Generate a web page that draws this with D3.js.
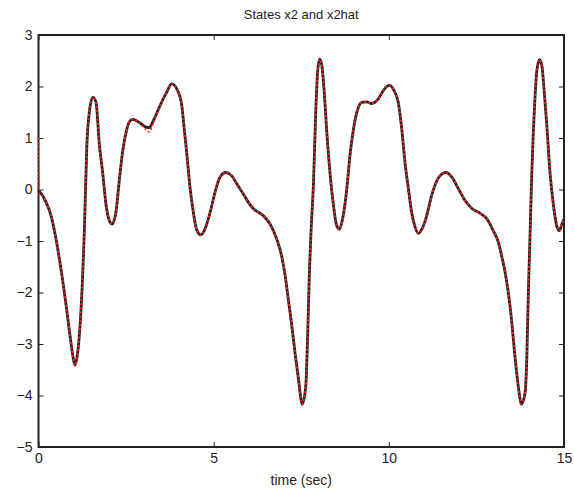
<!DOCTYPE html>
<html>
<head>
<meta charset="utf-8">
<script src="https://cdn.jsdelivr.net/npm/d3@7"></script>
<style>
  body { margin: 0; background: #fff; }
  text { font-family: "Liberation Sans", Arial, sans-serif; fill: #222; }
</style>
</head>
<body>
<div id="container"></div>
<script>
/* CONSTANTS AND GLOBALS */
const width = 574,
  height = 490,
  margin = { top: 35, bottom: 43, left: 38.5, right: 10 }

/* DATA */
const time = [0.00, 0.03, 0.12, 0.21, 0.36, 0.50, 0.64, 0.79, 0.90, 0.98, 1.04, 1.12, 1.21, 1.31, 1.38, 1.45, 1.55, 1.64, 1.74, 1.83,
  1.93, 2.02, 2.10, 2.21, 2.31, 2.40, 2.50, 2.59, 2.69, 2.88, 3.07, 3.16, 3.28, 3.47, 3.66, 3.80, 3.95, 4.09, 4.16, 4.23,
  4.32, 4.42, 4.51, 4.63, 4.75, 4.90, 5.04, 5.18, 5.35, 5.51, 5.66, 5.85, 6.02, 6.13, 6.42, 6.61, 6.80, 6.94, 7.04, 7.13,
  7.23, 7.32, 7.42, 7.53, 7.63, 7.68, 7.73, 7.78, 7.85, 7.91, 7.96, 8.02, 8.08, 8.15, 8.23, 8.32, 8.42, 8.51, 8.59, 8.68,
  8.80, 8.89, 8.99, 9.10, 9.23, 9.37, 9.51, 9.70, 9.84, 10.01, 10.15, 10.27, 10.37, 10.46, 10.56, 10.65, 10.75, 10.84, 10.97, 11.08,
  11.22, 11.37, 11.51, 11.63, 11.80, 11.99, 12.18, 12.37, 12.60, 12.80, 12.98, 13.13, 13.22, 13.32, 13.41, 13.51, 13.58, 13.68, 13.79, 13.89,
  13.94, 13.98, 14.03, 14.08, 14.12, 14.17, 14.22, 14.30, 14.37, 14.43, 14.51, 14.60, 14.70, 14.79, 14.87, 14.94, 15.00]

const x2 = [0.00, -0.04, -0.12, -0.24, -0.51, -0.96, -1.54, -2.26, -2.84, -3.23, -3.41, -3.16, -2.38, -0.77, 0.85, 1.50, 1.79, 1.70, 0.85, 0.34,
  -0.31, -0.60, -0.67, -0.44, 0.20, 0.73, 1.11, 1.31, 1.36, 1.30, 1.21, 1.20, 1.34, 1.63, 1.89, 2.05, 1.95, 1.63, 1.17, 0.72,
  0.07, -0.44, -0.77, -0.88, -0.77, -0.44, -0.05, 0.24, 0.33, 0.27, 0.11, -0.09, -0.28, -0.37, -0.51, -0.67, -0.96, -1.29, -1.67, -2.13,
  -2.64, -3.16, -3.68, -4.17, -3.81, -2.90, -1.67, -0.80, 0.14, 1.43, 2.21, 2.53, 2.44, 1.95, 1.11, 0.33, -0.31, -0.70, -0.77, -0.57,
  0.01, 0.66, 1.17, 1.53, 1.69, 1.70, 1.67, 1.76, 1.92, 2.02, 1.92, 1.69, 1.17, 0.53, 0.01, -0.44, -0.73, -0.85, -0.73, -0.51,
  -0.12, 0.17, 0.30, 0.33, 0.24, 0.01, -0.22, -0.37, -0.46, -0.57, -0.80, -1.03, -1.29, -1.61, -2.00, -2.58, -3.10, -3.74, -4.17, -3.94,
  -3.23, -2.06, -0.90, 0.30, 1.05, 1.76, 2.28, 2.52, 2.40, 1.95, 1.24, 0.33, -0.31, -0.70, -0.80, -0.67, -0.58]

// estimate: starts at 1, dips a little below x2 around t = 3.1
const x2hat = [1.00, -0.10, -0.12, -0.24, -0.51, -0.96, -1.54, -2.26, -2.84, -3.23, -3.41, -3.16, -2.38, -0.77, 0.85, 1.50, 1.79, 1.70, 0.85, 0.34,
  -0.31, -0.60, -0.67, -0.44, 0.20, 0.73, 1.11, 1.31, 1.36, 1.30, 1.16, 1.12, 1.30, 1.63, 1.89, 2.05, 1.95, 1.63, 1.17, 0.72,
  0.07, -0.44, -0.77, -0.88, -0.77, -0.44, -0.05, 0.24, 0.33, 0.27, 0.11, -0.09, -0.28, -0.37, -0.51, -0.67, -0.96, -1.29, -1.67, -2.13,
  -2.64, -3.16, -3.68, -4.17, -3.81, -2.90, -1.67, -0.80, 0.14, 1.43, 2.21, 2.53, 2.44, 1.95, 1.11, 0.33, -0.31, -0.70, -0.77, -0.57,
  0.01, 0.66, 1.17, 1.53, 1.69, 1.70, 1.67, 1.76, 1.92, 2.02, 1.92, 1.69, 1.17, 0.53, 0.01, -0.44, -0.73, -0.85, -0.73, -0.51,
  -0.12, 0.17, 0.30, 0.33, 0.24, 0.01, -0.22, -0.37, -0.46, -0.57, -0.80, -1.03, -1.29, -1.61, -2.00, -2.58, -3.10, -3.74, -4.17, -3.94,
  -3.23, -2.06, -0.90, 0.30, 1.05, 1.76, 2.28, 2.52, 2.40, 1.95, 1.24, 0.33, -0.31, -0.70, -0.80, -0.67, -0.58]

const xTicks = [0, 5, 10, 15]
const yTicks = [-5, -4, -3, -2, -1, 0, 1, 2, 3]

const titleText = "States x2 and x2hat"
const xLabelText = "time (sec)"

/* SCALES */
const xScale = d3.scaleLinear()
  .domain([0, 15])
  .range([margin.left, width - margin.right])

const yScale = d3.scaleLinear()
  .domain([-5, 3])
  .range([height - margin.bottom, margin.top])

/* SVG */
const svg = d3.select("#container")
  .append("svg")
  .attr("width", width)
  .attr("height", height)

/* AXES (MATLAB style box, ticks inside on all sides) */
const tickLen = 5
const axisStyle = g => {
  g.select(".domain").remove()
  g.selectAll(".tick line").attr("stroke", "#222")
  g.selectAll(".tick text").style("font-size", "14px").attr("fill", "#222")
}

svg.append("g")
  .attr("transform", `translate(0, ${height - margin.bottom})`)
  .call(d3.axisBottom(xScale).tickValues(xTicks).tickSize(-tickLen).tickPadding(6).tickFormat(d3.format("d")))
  .call(axisStyle)

svg.append("g")
  .attr("transform", `translate(0, ${margin.top})`)
  .call(d3.axisTop(xScale).tickValues(xTicks).tickSize(-tickLen).tickFormat(""))
  .call(axisStyle)

svg.append("g")
  .attr("transform", `translate(${margin.left}, 0)`)
  .call(d3.axisLeft(yScale).tickValues(yTicks).tickSize(-tickLen).tickPadding(6).tickFormat(d3.format("d")))
  .call(axisStyle)

svg.append("g")
  .attr("transform", `translate(${width - margin.right}, 0)`)
  .call(d3.axisRight(yScale).tickValues(yTicks).tickSize(-tickLen).tickFormat(""))
  .call(axisStyle)

// box
svg.append("rect")
  .attr("x", margin.left)
  .attr("y", margin.top)
  .attr("width", width - margin.left - margin.right)
  .attr("height", height - margin.top - margin.bottom)
  .attr("fill", "none")
  .attr("stroke", "#222")
  .attr("stroke-width", 2)

/* LINES */
const lineGen = d3.line()
  .x(d => xScale(d[0]))
  .y(d => yScale(d[1]))
  .curve(d3.curveMonotoneX)

const x2Data = time.map((t, i) => [t, x2[i]])
const x2hatData = time.map((t, i) => [t, x2hat[i]])

const plot = svg.append("g")

// x2 : thick black line
plot.append("path")
  .datum(x2Data)
  .attr("fill", "none")
  .attr("stroke", "#222")
  .attr("stroke-width", 2.8)
  .attr("stroke-linejoin", "round")
  .attr("d", lineGen)

// x2hat : red dotted line on top
plot.append("path")
  .datum(x2hatData)
  .attr("fill", "none")
  .attr("stroke", "#ff2424")
  .attr("stroke-width", 1.8)
  .attr("stroke-dasharray", "2,2.2")
  .attr("d", lineGen)

/* LABELS */
svg.append("text")
  .attr("x", (margin.left + width - margin.right) / 2)
  .attr("y", 19)
  .attr("text-anchor", "middle")
  .style("font-size", "13px")
  .text(titleText)

svg.append("text")
  .attr("x", (margin.left + width - margin.right) / 2)
  .attr("y", 485)
  .attr("text-anchor", "middle")
  .style("font-size", "14px")
  .text(xLabelText)
</script>
</body>
</html>
